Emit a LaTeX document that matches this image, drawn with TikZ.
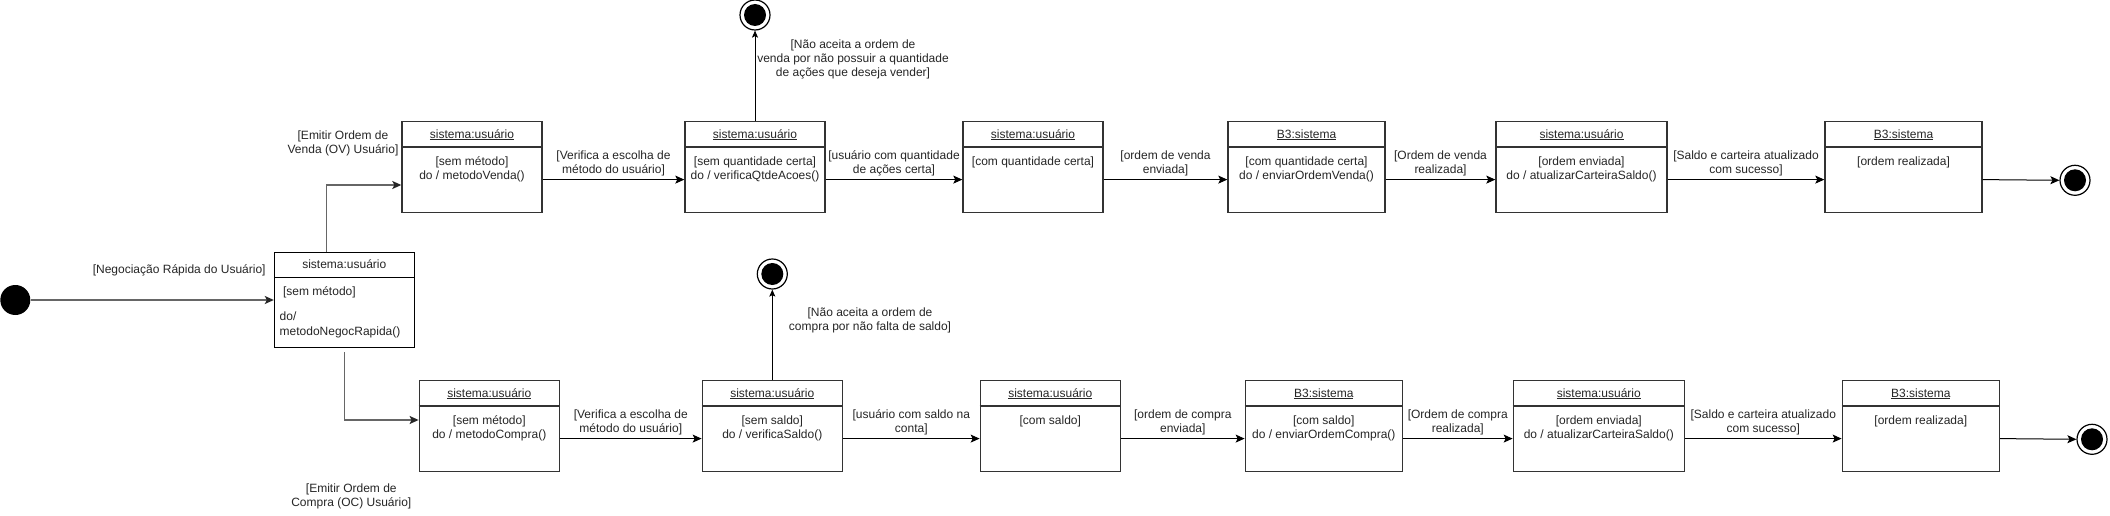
\documentclass[tikz,border=0pt]{standalone}
\usepackage{fontspec}
\setmainfont{Liberation Sans}
\usetikzlibrary{arrows.meta,calc}
\newcommand\fs{\fontsize{12}{14.4}\selectfont}
\tikzset{
 st/.style={draw=black!80, line width=1.4pt, minimum height=91pt, inner sep=0pt, fill=white},
 sepline/.style={draw=black!80, line width=1.4pt},
 txt/.style={font=\fs, align=center, inner sep=0pt, anchor=north, text=black!85},
 ltxt/.style={font=\fs, align=left, inner sep=0pt, anchor=north west, text=black!85},
 arr/.style={draw=black, line width=1pt, -{Stealth[length=9pt,width=8pt,inset=2pt]}},
 uparr/.style={draw=black, line width=1pt, -{Stealth[length=7pt,width=6pt,inset=1.5pt]}},
 garr/.style={draw=black!60, line width=1.3pt, -{Stealth[length=9pt,width=8pt,inset=2pt,color=black!85]}},
 endc/.style={circle, draw=black, line width=1.2pt, fill=white, minimum size=30pt, inner sep=0pt,
   path picture={\fill[black] (path picture bounding box.center) circle (11pt);}},
 initc/.style={circle, fill=black, minimum size=30pt, inner sep=0pt},
}
% name, cx, top, width, title, content
\newcommand\stbox[6]{%
 \node[st, minimum width=#4pt] (#1) at (#2,{#3+45.5}) {};
 \draw[sepline] ([yshift=-26pt]#1.north west) -- ([yshift=-26pt]#1.north east);
 \node[txt] (#1t) at ([yshift=-6.8pt]#1.north) {\strut\underline{#5}};
 \node[txt] (#1c) at ([yshift=-34.3pt]#1.north) {\strut #6};
}
\begin{document}
\begin{tikzpicture}[x=1pt,y=-1pt]
\fill[white] (0,0) rectangle (2110,516);
\useasboundingbox (0,0) rectangle (2110,516);

% top row
\stbox{b1}{472}{121.7}{140}{sistema:usuário}{[sem método]\\do / metodoVenda()}
\stbox{b2}{755}{121.7}{140}{sistema:usuário}{[sem quantidade certa]\\do / verificaQtdeAcoes()}
\stbox{b3}{1033}{121.7}{140}{sistema:usuário}{[com quantidade certa]}
\stbox{b4}{1306.5}{121.7}{157}{B3:sistema}{[com quantidade certa]\\do / enviarOrdemVenda()}
\stbox{b5}{1581.5}{121.7}{171}{sistema:usuário}{[ordem enviada]\\do / atualizarCarteiraSaldo()}
\stbox{b6}{1903.5}{121.7}{157}{B3:sistema}{[ordem realizada]}

% bottom row
\stbox{c1}{489.3}{380.7}{140}{sistema:usuário}{[sem método]\\do / metodoCompra()}
\stbox{c2}{772.3}{380.7}{140}{sistema:usuário}{[sem saldo]\\do / verificaSaldo()}
\stbox{c3}{1050.3}{380.7}{140}{sistema:usuário}{[com saldo]}
\stbox{c4}{1323.8}{380.7}{157}{B3:sistema}{[com saldo]\\do / enviarOrdemCompra()}
\stbox{c5}{1598.8}{380.7}{171}{sistema:usuário}{[ordem enviada]\\do / atualizarCarteiraSaldo()}
\stbox{c6}{1920.8}{380.7}{157}{B3:sistema}{[ordem realizada]}

% decision box
\node[draw=black, line width=1pt, minimum width=140pt, minimum height=94.6pt, inner sep=0pt, fill=white] (dec) at (344.3,300) {};
\draw[black, line width=1pt] ([yshift=-25.6pt]dec.north west) -- ([yshift=-25.6pt]dec.north east);
\node[txt] (dect) at ([yshift=-6.1pt]dec.north) {\strut sistema:usuário};
\node[ltxt] (decc1) at ([xshift=9pt,yshift=-32.8pt]dec.north west) {\strut[sem método]};
\node[ltxt] (decc2) at ([xshift=5.7pt,yshift=-58.4pt]dec.north west) {\strut do/\\metodoNegocRapida()};

% initial and final states
\node[initc] (init) at (15.3,300) {};
\node[endc] (e1) at (755,15) {};
\node[endc] (e2) at (772.3,274) {};
\node[endc] (e3) at (2075,180.3) {};
\node[endc] (e4) at (2092,439.3) {};

% connectors from start / decision
\draw[garr] (init) -- (dec.west);
\draw[garr] ([xshift=-17.6pt]dec.north) |- ([yshift=-64pt]b1.north west);
\draw[garr] ([yshift=-4.4pt]dec.south) |- ([yshift=-40pt]c1.north west);

% row connectors
\foreach \a/\b in {b1/b2,b2/b3,b3/b4,b4/b5,b5/b6}{
  \draw[arr] ([yshift=-58.6pt]\a.north east) -- ([yshift=-58.6pt]\b.north west);
}
\foreach \a/\b in {c1/c2,c2/c3,c3/c4,c4/c5,c5/c6}{
  \draw[arr] ([yshift=-58.6pt]\a.north east) -- ([yshift=-58.6pt]\b.north west);
}
\draw[arr] ([yshift=-58.6pt]b6.north east) -- (e3.west);
\draw[arr] ([yshift=-58.6pt]c6.north east) -- (e4.west);
\draw[uparr] (b2.north) -- (e1.south);
\draw[uparr] (c2.north) -- (e2.south);

% edge labels top row
\path ($(b1.north east)!.5!(b2.north west)$) ++(0,28.3) node[txt] (l12) {\strut[Verifica a escolha de\\método do usuário]};
\path ($(b2.north east)!.5!(b3.north west)$) ++(0,28.3) node[txt] (l23) {\strut[usuário com quantidade\\de ações certa]};
\path ($(b3.north east)!.5!(b4.north west)$) ++(0,28.3) node[txt] (l34) {\strut[ordem de venda\\enviada]};
\path ($(b4.north east)!.5!(b5.north west)$) ++(0,28.3) node[txt] (l45) {\strut[Ordem de venda\\realizada]};
\path ($(b5.north east)!.5!(b6.north west)$) ++(0,28.3) node[txt] (l56) {\strut[Saldo e carteira atualizado\\com sucesso]};

% edge labels bottom row
\path ($(c1.north east)!.5!(c2.north west)$) ++(0,28.3) node[txt] (m12) {\strut[Verifica a escolha de\\método do usuário]};
\path ($(c2.north east)!.5!(c3.north west)$) ++(0,28.3) node[txt] (m23) {\strut[usuário com saldo na\\conta]};
\path ($(c3.north east)!.5!(c4.north west)$) ++(0,28.3) node[txt] (m34) {\strut[ordem de compra\\enviada]};
\path ($(c4.north east)!.5!(c5.north west)$) ++(0,28.3) node[txt] (m45) {\strut[Ordem de compra\\realizada]};
\path ($(c5.north east)!.5!(c6.north west)$) ++(0,28.3) node[txt] (m56) {\strut[Saldo e carteira atualizado\\com sucesso]};

% other labels
\node[txt] (f1) at (853,37.8) {\strut[Não aceita a ordem de\\venda por não possuir a quantidade\\de ações que deseja vender]};
\node[txt] (f2) at (870,306.3) {\strut[Não aceita a ordem de\\compra por não falta de saldo]};
\node[txt] (neg) at (179.2,262.8) {\strut[Negociação Rápida do Usuário]};
\node[txt] (ov) at (343,129.3) {\strut[Emitir Ordem de\\Venda (OV) Usuário]};
\node[txt] (oc) at (351.3,481.8) {\strut[Emitir Ordem de\\Compra (OC) Usuário]};
\end{tikzpicture}
\end{document}
